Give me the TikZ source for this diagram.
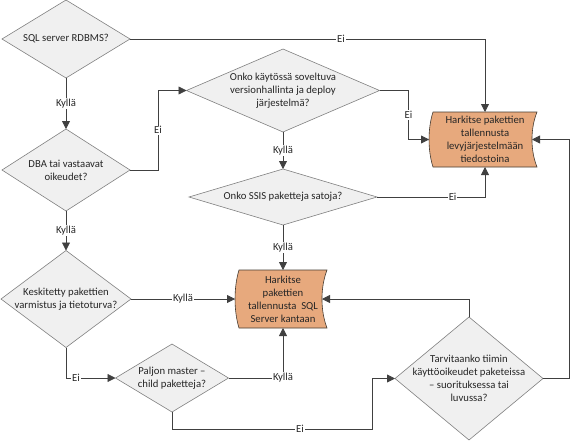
\documentclass[tikz,border=0pt]{standalone}
\usepackage{fontspec}
\setmainfont{Carlito}
\usetikzlibrary{shapes.geometric,arrows.meta,calc,backgrounds}
\definecolor{lineC}{RGB}{64,64,64}
\definecolor{diaFill}{RGB}{240,240,240}
\definecolor{diaLine}{RGB}{128,128,128}
\definecolor{orangeF}{RGB}{231,169,125}
\definecolor{orangeL}{RGB}{70,60,50}
\tikzset{
 every node/.style={font=\fontsize{10.7}{13}\selectfont, text=black!85},
 dia/.style={diamond, draw=diaLine, fill=diaFill, line width=0.6pt, inner sep=0pt, outer sep=0pt},
 dtext/.style={align=center, inner sep=0pt},
 store/.style={rectangle, draw=none, align=center, inner sep=0pt, outer sep=0pt},
 conn/.style={draw=lineC, line width=0.8pt, -{Triangle[length=8pt,width=8pt]}},
 lbl/.style={fill=white, inner sep=1pt},
}
\newcommand{\storedshape}[1]{%
 \filldraw[fill=orangeF, draw=orangeL, line width=0.6pt]
 (#1.north west) -- (#1.north east)
 .. controls ([xshift=-6.7pt]$(#1.north east)!0.3!(#1.south east)$) and ([xshift=-6.7pt]$(#1.north east)!0.7!(#1.south east)$) .. (#1.south east)
 -- (#1.south west)
 .. controls ([xshift=-5.3pt]$(#1.south west)!0.3!(#1.north west)$) and ([xshift=-5.3pt]$(#1.south west)!0.7!(#1.north west)$) .. (#1.north west) -- cycle;}
\begin{document}
\begin{tikzpicture}[x=1pt,y=-1pt]
\useasboundingbox (0,0) rectangle (572,442);
% diamonds
\node[dia, minimum width=128pt, minimum height=78pt, label={[dtext]center:SQL server RDBMS?}] (d1) at (66,39) {};
\node[dia, minimum width=128pt, minimum height=82pt, label={[dtext]center:{DBA tai vastaavat\\oikeudet?}}] (d2) at (66,170) {};
\node[dia, minimum width=130pt, minimum height=97pt, label={[dtext]center:{Keskitetty pakettien\\varmistus ja tietoturva?}}] (d3) at (66,299) {};
\node[dia, minimum width=113pt, minimum height=68pt, label={[dtext]center:{Paljon master –\\child paketteja?}}] (d4) at (172,378) {};
\node[dia, minimum width=193pt, minimum height=83pt, label={[dtext]center:{Onko käytössä soveltuva\\versionhallinta ja deploy\\järjestelmä?}}] (d5) at (283,90.5) {};
\node[dia, minimum width=188pt, minimum height=56pt, label={[dtext]center:{Onko SSIS paketteja satoja?}}] (d6) at (283,197) {};
\node[dia, minimum width=148pt, minimum height=123pt, label={[dtext]center:{Tarvitaanko tiimin\\käyttöoikeudet paketeissa\\– suorituksessa tai\\luvussa?}}] (d7) at (469,378.5) {};
% stored data boxes
\node[store, minimum width=104pt, minimum height=55pt] (b1) at (485,139.5) {Harkitse pakettien\\tallennusta\\levyjärjestelmään\\tiedostoina};
\node[store, minimum width=88pt, minimum height=58pt] (b2) at (283,299) {Harkitse\\pakettien\\tallennusta\ \ SQL\\Server kantaan};
\begin{pgfonlayer}{background}
\fill[white] (0,0) rectangle (572,442);
\storedshape{b1}
\storedshape{b2}
\end{pgfonlayer}
% connectors
\draw[conn] (d1.east) -| node[lbl,pos=0.297]{Ei} (b1.north);
\draw[conn] (d1.south) -- node[lbl]{Kyllä} (d2.north);
\draw[conn] (d2.east) -- ++(28,0) |- node[lbl,pos=0.25]{Ei} (d5.west);
\draw[conn] (d2.south) -- node[lbl]{Kyllä} (d3.north);
\draw[conn] (d5.east) -- ++(29,0) |- node[lbl,pos=0.25]{Ei} ([xshift=-4pt]b1.west);
\draw[conn] (d5.south) -- node[lbl]{Kyllä} (d6.north);
\draw[conn] (d6.east) -| node[lbl,pos=0.35]{Ei} (b1.south);
\draw[conn] (d6.south) -- node[lbl]{Kyllä} (b2.north);
\draw[conn] (d3.east) -- node[lbl]{Kyllä} ([xshift=-4pt]b2.west);
\draw[conn] (d3.south) |- node[lbl,pos=0.6]{Ei} (d4.west);
\draw[conn] (d4.east) -| node[lbl,pos=0.5]{Kyllä} (b2.south);
\draw[conn] (d4.south) -- ++(0,17) -| node[lbl,pos=0.32]{Ei} ($(d7.west)+(-23,0)$) -- (d7.west);
\draw[conn] (d7.north) |- ([xshift=-5pt]b2.east);
\draw[conn] (d7.east) -- ++(26,0) |- ([xshift=-5pt]b1.east);
\end{tikzpicture}
\end{document}
